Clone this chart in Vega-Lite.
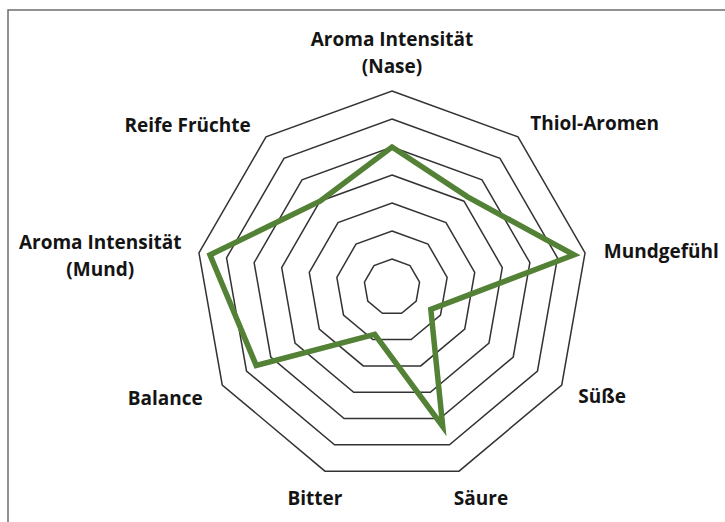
{
  "$schema": "https://vega.github.io/schema/vega-lite/v6.json",
  "width": 720,
  "height": 515,
  "autosize": "none",
  "padding": {"left": 8, "top": 10, "right": 0, "bottom": 0},
  "background": "white",
  "config": {"view": {"stroke": "#6e6e6e", "strokeWidth": 1.5}},
  "datasets": {
    "grid": [
      {"ring": 1, "i": [0, 1, 2, 3, 4, 5, 6, 7, 8]},
      {"ring": 2, "i": [0, 1, 2, 3, 4, 5, 6, 7, 8]},
      {"ring": 3, "i": [0, 1, 2, 3, 4, 5, 6, 7, 8]},
      {"ring": 4, "i": [0, 1, 2, 3, 4, 5, 6, 7, 8]},
      {"ring": 5, "i": [0, 1, 2, 3, 4, 5, 6, 7, 8]},
      {"ring": 6, "i": [0, 1, 2, 3, 4, 5, 6, 7, 8]},
      {"ring": 7, "i": [0, 1, 2, 3, 4, 5, 6, 7, 8]}
    ],
    "scores": [
      {"attr": "Aroma Intensität\n(Nase)", "i": 0, "value": 5.0},
      {"attr": "Thiol-Aromen", "i": 1, "value": 4.2},
      {"attr": "Mundgefühl", "i": 2, "value": 6.6},
      {"attr": "Süße", "i": 3, "value": 1.6},
      {"attr": "Säure", "i": 4, "value": 5.3},
      {"attr": "Bitter", "i": 5, "value": 1.8},
      {"attr": "Balance", "i": 6, "value": 5.6},
      {"attr": "Aroma Intensität\n(Mund)", "i": 7, "value": 6.6},
      {"attr": "Reife Früchte", "i": 8, "value": 4.0}
    ]
  },
  "encoding": {
    "x": {"field": "x", "type": "quantitative", "scale": {"domain": [-13.714, 12.0], "nice": false, "zero": false}, "axis": null},
    "y": {"field": "y", "type": "quantitative", "scale": {"domain": [-8.5, 9.893], "nice": false, "zero": false}, "axis": null}
  },
  "layer": [
    {
      "data": {"name": "grid"},
      "transform": [
        {"flatten": ["i"]},
        {"calculate": "datum.ring * sin(datum.i * 2 * PI / 9)", "as": "x"},
        {"calculate": "datum.ring * cos(datum.i * 2 * PI / 9)", "as": "y"}
      ],
      "mark": {"type": "line", "interpolate": "linear-closed", "stroke": "#333333", "strokeWidth": 1.5},
      "encoding": {"detail": {"field": "ring", "type": "nominal"}, "order": {"field": "i", "type": "quantitative"}}
    },
    {
      "data": {"name": "scores"},
      "transform": [
        {"calculate": "datum.value * sin(datum.i * 2 * PI / 9)", "as": "x"},
        {"calculate": "datum.value * cos(datum.i * 2 * PI / 9)", "as": "y"}
      ],
      "mark": {"type": "line", "interpolate": "linear-closed", "stroke": "#538135", "strokeWidth": 5.5, "strokeJoin": "miter"},
      "encoding": {"order": {"field": "i", "type": "quantitative"}}
    },
    {
      "data": {"name": "scores"},
      "transform": [
        {"filter": "datum.i >= 1 && datum.i <= 3"},
        {"calculate": "7.68 * sin(datum.i * 2 * PI / 9)", "as": "x"},
        {"calculate": "7.68 * cos(datum.i * 2 * PI / 9)", "as": "y"}
      ],
      "mark": {"type": "text", "align": "left", "baseline": "middle", "dy": 2, "font": "Open Sans", "fontWeight": "bold", "fontSize": 19, "color": "#141414"},
      "encoding": {"text": {"field": "attr"}}
    },
    {
      "data": {"name": "scores"},
      "transform": [
        {"filter": "datum.i == 6 || datum.i == 8"},
        {"calculate": "7.68 * sin(datum.i * 2 * PI / 9)", "as": "x"},
        {"calculate": "7.68 * cos(datum.i * 2 * PI / 9)", "as": "y"}
      ],
      "mark": {"type": "text", "align": "right", "baseline": "middle", "dx": -3, "dy": 4, "font": "Open Sans", "fontWeight": "bold", "fontSize": 19, "color": "#141414"},
      "encoding": {"text": {"field": "attr"}}
    },
    {
      "data": {"name": "scores"},
      "transform": [
        {"filter": "datum.i == 7"},
        {"calculate": "7.68 * sin(datum.i * 2 * PI / 9)", "as": "x"},
        {"calculate": "7.68 * cos(datum.i * 2 * PI / 9)", "as": "y"}
      ],
      "mark": {"type": "text", "align": "center", "baseline": "middle", "dx": -80, "dy": -7, "font": "Open Sans", "fontWeight": "bold", "fontSize": 19, "lineHeight": 27, "color": "#141414", "lineBreak": "\n"},
      "encoding": {"text": {"field": "attr"}}
    },
    {
      "data": {"name": "scores"},
      "transform": [
        {"filter": "datum.i == 0"},
        {"calculate": "8.36 * sin(datum.i * 2 * PI / 9)", "as": "x"},
        {"calculate": "8.36 * cos(datum.i * 2 * PI / 9)", "as": "y"}
      ],
      "mark": {"type": "text", "align": "center", "baseline": "middle", "dy": -13, "font": "Open Sans", "fontWeight": "bold", "fontSize": 19, "lineHeight": 27, "color": "#141414", "lineBreak": "\n"},
      "encoding": {"text": {"field": "attr"}}
    },
    {
      "data": {"name": "scores"},
      "transform": [
        {"filter": "datum.i == 5"},
        {"calculate": "8.04 * sin(datum.i * 2 * PI / 9)", "as": "x"},
        {"calculate": "8.04 * cos(datum.i * 2 * PI / 9)", "as": "y"}
      ],
      "mark": {"type": "text", "align": "center", "baseline": "middle", "font": "Open Sans", "fontWeight": "bold", "fontSize": 19, "color": "#141414"},
      "encoding": {"text": {"field": "attr"}}
    },
    {
      "data": {"name": "scores"},
      "transform": [
        {"filter": "datum.i == 4"},
        {"calculate": "8.04 * sin(datum.i * 2 * PI / 9)", "as": "x"},
        {"calculate": "8.04 * cos(datum.i * 2 * PI / 9)", "as": "y"}
      ],
      "mark": {"type": "text", "align": "center", "baseline": "middle", "dx": 12, "font": "Open Sans", "fontWeight": "bold", "fontSize": 19, "color": "#141414"},
      "encoding": {"text": {"field": "attr"}}
    }
  ]
}
